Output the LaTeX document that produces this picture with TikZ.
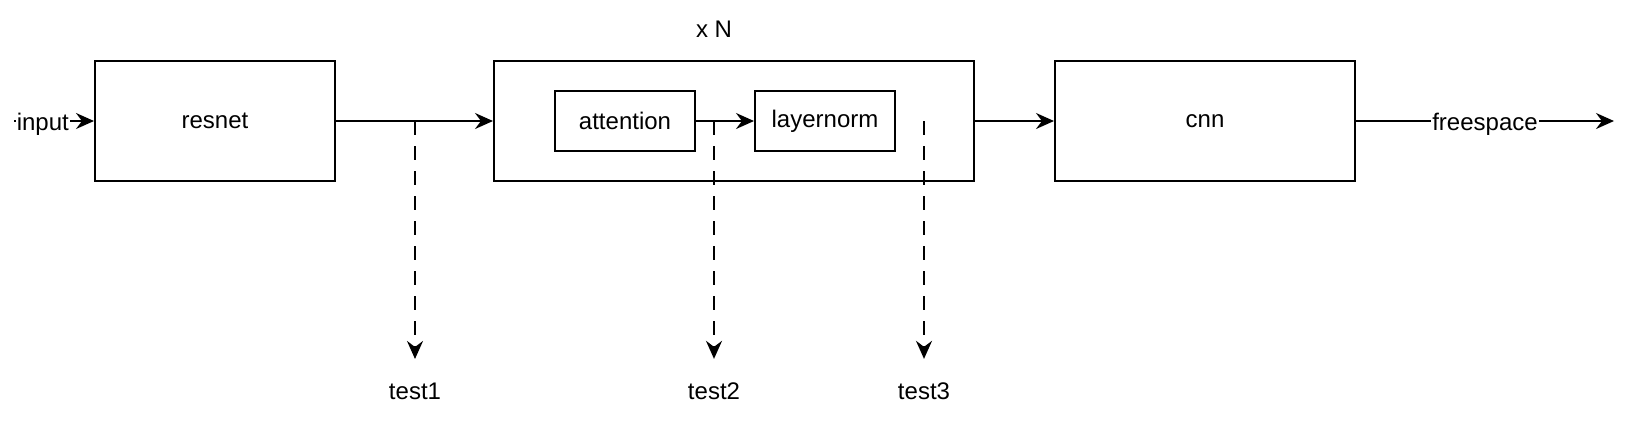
\documentclass[tikz,border=0pt]{standalone}
\usepackage{fontspec}
\setmainfont{Liberation Sans}
\usetikzlibrary{arrows.meta,positioning}

\begin{document}
\begin{tikzpicture}[x=0.5pt,y=-0.5pt,font=\fontsize{12}{14}\selectfont,line width=1pt,
  >={Stealth[length=9pt,width=8pt,inset=3pt]},
  b/.style={draw,inner sep=0pt,minimum width=120pt,minimum height=60pt},
  s/.style={b,minimum width=70pt,minimum height=30pt},
  lbl/.style={fill=white,inner sep=0.5pt,yshift=-1.5pt},
  tap/.style={->,dash pattern=on 7pt off 5.5pt,shorten >=8pt}]
\useasboundingbox (0,0) rectangle (1632,420);
\node[b](resnet) at (215,121){resnet};
\node[b,minimum width=240pt](blk) at (734,121){};
\node[s](attn) at (625,121){attention};
\node[s](norm) at (825,121){layernorm};
\node[b,minimum width=150pt](cnn) at (1205,121){cnn};
\node(rep) at (714,29){x N};
\coordinate(in) at (14,121);
\coordinate(out) at (1614,121);
\draw[->](in)--node[lbl,pos=0.36]{input}(resnet);
\foreach \x/\y in {resnet/blk,attn/norm,blk/cnn} \draw[->](\x)--(\y);
\draw[->](cnn)--node[lbl]{freespace}(out);
\foreach \t/\x in {1/415,2/714,3/924}{
  \node(test\t) at (\x,391){test\t};
  \coordinate(tap\t) at (\x,121);
  \draw[tap](tap\t)--(test\t);
}
\end{tikzpicture}
\end{document}
